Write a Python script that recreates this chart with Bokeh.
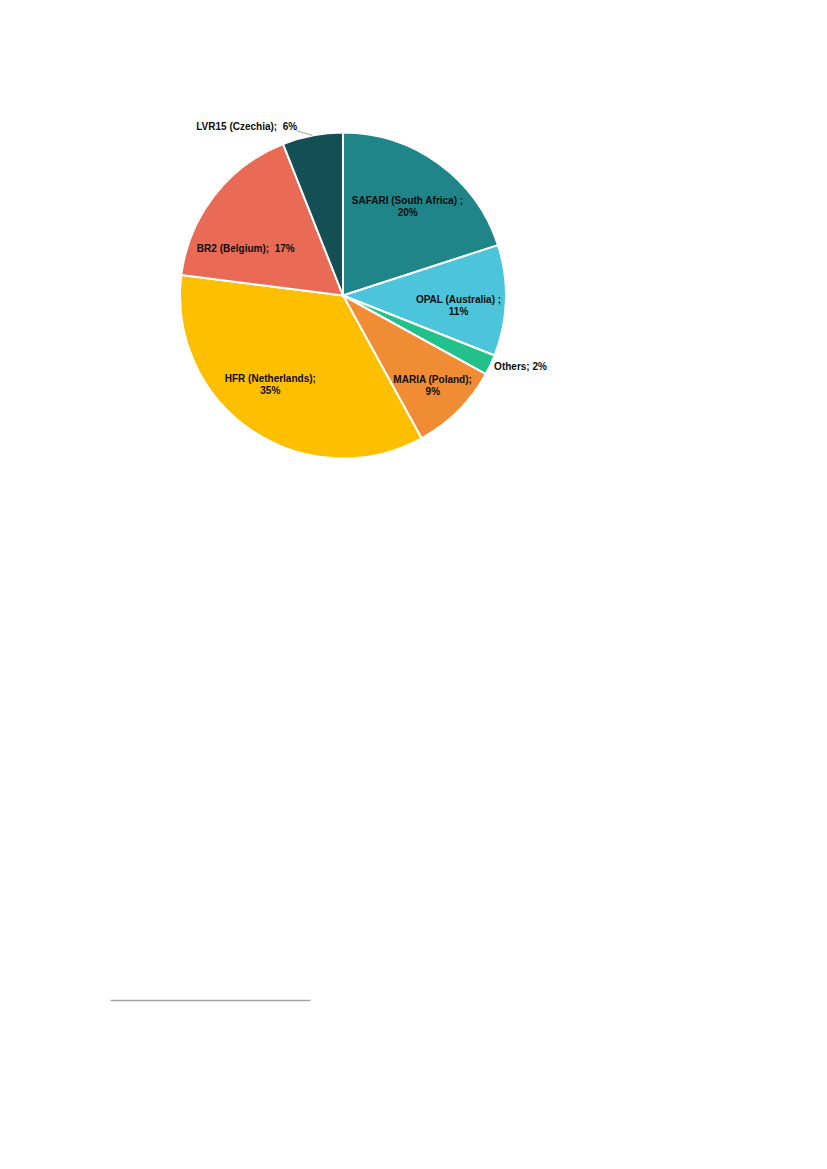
import math
from bokeh.plotting import figure
from bokeh.models import Range1d, ColumnDataSource
from bokeh.core.properties import value
from bokeh.embed import file_html
from bokeh.resources import INLINE

# ---- data ----
names = ["SAFARI (South Africa) ;", "OPAL (Australia) ;", "Others;", "MARIA (Poland);",
         "HFR (Netherlands);", "BR2 (Belgium);", "LVR15 (Czechia);"]
shares = [20, 11, 2, 9, 35, 17, 6]
colors = ["#1f8589", "#4bc4dc", "#22c08a", "#ef8c34", "#fdbf00", "#e96a55", "#134f54"]

# label layout: (distance from centre, angular tweak in degrees, mode)
label_layout = [(110, 0, "in2"), (116, 3, "in2"), (167, 0, "out_left"), (127, 0, "in2"),
                (115, 5, "in2"), (108, -12, "in1"), (175, 0, "out_right")]

W, H = 811, 1153
p = figure(width=W, height=H, x_range=Range1d(0, W), y_range=Range1d(0, H),
           output_backend="svg", toolbar_location=None, min_border=0)
p.axis.visible = False
p.grid.visible = False
p.outline_line_color = None
p.background_fill_color = "white"

cx, cy, r = 342.5, 858, 163

total = sum(shares)
starts, ends, mids = [], [], []
cum = 0
for s in shares:
    a0 = math.pi / 2 - 2 * math.pi * cum / total
    a1 = math.pi / 2 - 2 * math.pi * (cum + s) / total
    starts.append(a0)
    ends.append(a1)
    mids.append((cum + s / 2) / total * 360.0)  # degrees clockwise from top
    cum += s

src = ColumnDataSource(dict(start=starts, end=ends, color=colors))
p.wedge(x=cx, y=cy, radius=r, start_angle="start", end_angle="end", direction="clock",
        fill_color="color", line_color="white", line_width=2, source=src)

font = value("Liberation Sans")
tc = "#0d0d0d"
fs = "10px"
NB = "\u00a0"


def txt(x, y, t, align="center"):
    p.text(x=[x], y=[y], text=[t], text_font=font, text_font_size=fs,
           text_font_style="bold", text_color=tc, text_align=align,
           text_baseline="middle")


for name, s, mid, (d, tweak, mode) in zip(names, shares, mids, label_layout):
    th = math.radians(mid + tweak)
    x = cx + d * math.sin(th)
    y = cy + d * math.cos(th)
    if mode == "in2":
        txt(x, y + 6, name)
        txt(x, y - 6, f"{s}%")
    elif mode == "in1":
        txt(x, y, f"{name}{NB}{NB}{s}%")
    elif mode == "out_left":
        txt(x, y, f"{name}{NB}{s}%", "left")
    else:
        # leader line from pie edge to label
        ex = cx + r * math.sin(th)
        ey = cy + r * math.cos(th)
        lx = cx + d * math.sin(th) - 14
        ly = cy + d * math.cos(th) - 7
        p.line(x=[ex, lx], y=[ey, ly], line_color="#a6a6a6", line_width=1)
        txt(lx + 1, ly + 4, f"{name}{NB}{NB}{s}%", "right")

# footnote separator line
p.line(x=[110, 310], y=[H - 1000 + 8 - 8, H - 1000 + 8 - 8], line_color="#a6a6a6", line_width=1.5)

open("out.html", "w").write(file_html(p, INLINE))
